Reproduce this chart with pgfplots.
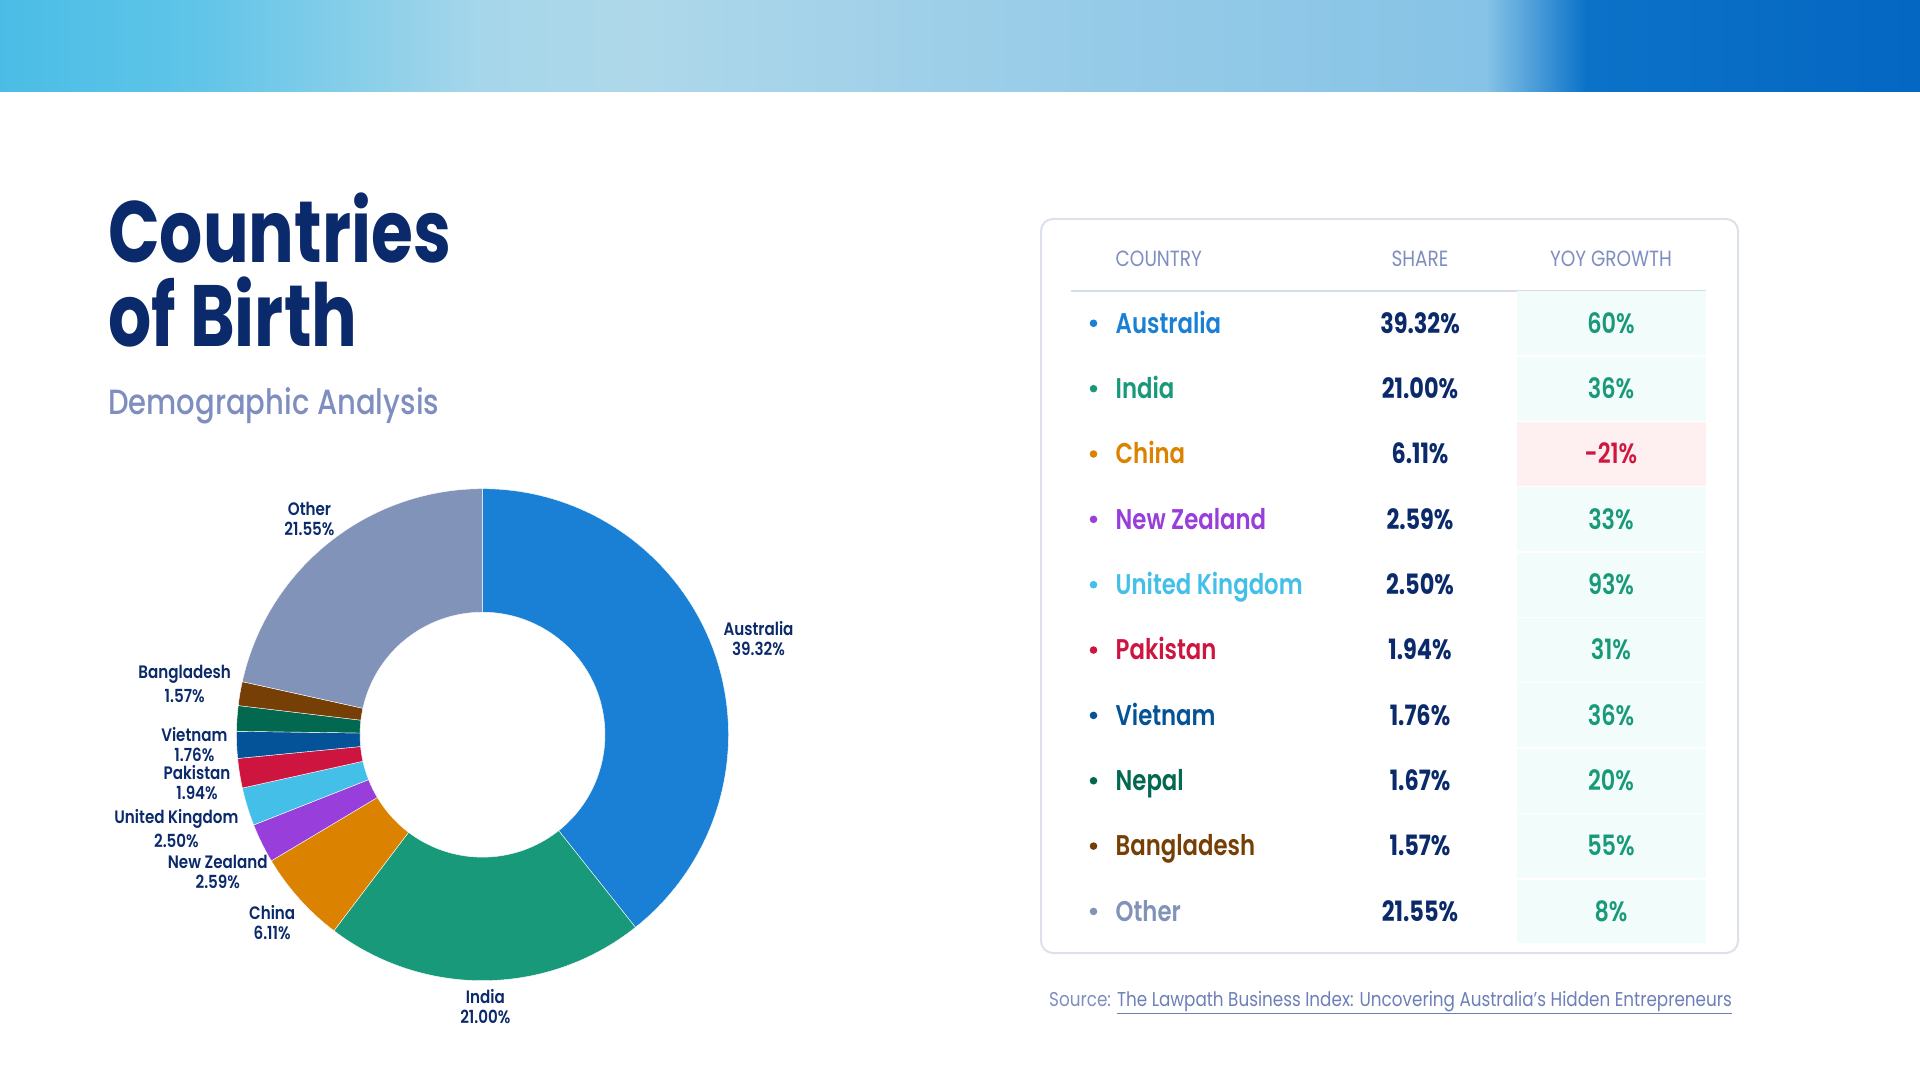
\documentclass[border=0pt]{standalone}
\usepackage{fontspec}
\setmainfont{Poppins}[FakeStretch=0.84]
\newfontfamily\psemi{Poppins SemiBold}[FakeStretch=0.8]
\newfontfamily\plab{Poppins SemiBold}[FakeStretch=0.84]
\newfontfamily\pmed{Poppins Medium}[FakeStretch=0.83]
\newfontfamily\pbold{Poppins Bold}[FakeStretch=0.8]
\newfontfamily\ptitle{Poppins Bold}[FakeStretch=0.78]
\usepackage{pgfplots}
\pgfplotsset{compat=1.18}
\usepackage{pgfplotstable}

\definecolor{navy}{HTML}{0B2A6B}
\definecolor{slate}{HTML}{7F8EC0}
\definecolor{boxc}{HTML}{DCE1EA}
\definecolor{rulec}{HTML}{D6DDEA}
\definecolor{cAus}{HTML}{1A80D6}
\definecolor{cInd}{HTML}{18997A}
\definecolor{cChn}{HTML}{DB8200}
\definecolor{cNzl}{HTML}{983EDB}
\definecolor{cUk}{HTML}{44C0E8}
\definecolor{cPak}{HTML}{CE1540}
\definecolor{cVnm}{HTML}{045297}
\definecolor{cNpl}{HTML}{02684F}
\definecolor{cBgd}{HTML}{763F06}
\definecolor{cOth}{HTML}{8293BA}
\definecolor{cGrn}{HTML}{18997A}
\definecolor{cRed}{HTML}{D0173F}
\definecolor{cellG}{HTML}{F2FCFA}
\definecolor{cellR}{HTML}{FEF0F1}
\definecolor{linkc}{HTML}{6C7FB8}
\definecolor{b0}{HTML}{4ABDE6}
\definecolor{b1}{HTML}{5FC4E8}
\definecolor{b2}{HTML}{A6D6EA}
\definecolor{b3}{HTML}{AED8EA}
\definecolor{b4}{HTML}{98CCE8}
\definecolor{b5}{HTML}{86C3E6}
\definecolor{b6}{HTML}{4A9BD8}
\definecolor{b7}{HTML}{0C72C8}
\definecolor{b8}{HTML}{0467C2}

\pgfdeclarehorizontalshading{banner}{100bp}{%
  color(0bp)=(b0); color(25bp)=(b0); color(30bp)=(b1);
  color(37.5bp)=(b2); color(41.5bp)=(b3); color(52.5bp)=(b4);
  color(63.7bp)=(b5); color(65bp)=(b6); color(66.3bp)=(b7);
  color(75bp)=(b8); color(100bp)=(b8)}

% share in %, yoy growth in %; gap = extra line gap of the donut label, dy = nudge
\pgfplotstableread[col sep=comma]{
name,share,yoy,col,gap,dy,show,bg,vc
Australia,39.32,60,cAus,0,0,1,cellG,cGrn
India,21.00,36,cInd,0,0,1,cellG,cGrn
China,6.11,-21,cChn,0,0,1,cellR,cRed
New Zealand,2.59,33,cNzl,0,-7,1,cellG,cGrn
United Kingdom,2.50,93,cUk,4.5,0,1,cellG,cGrn
Pakistan,1.94,31,cPak,0,-2,1,cellG,cGrn
Vietnam,1.76,36,cVnm,0,1.5,1,cellG,cGrn
Nepal,1.67,20,cNpl,0,0,0,cellG,cGrn
Bangladesh,1.57,55,cBgd,4.5,0,1,cellG,cGrn
Other,21.55,8,cOth,0,0,1,cellG,cGrn
}\births

\begin{document}
\begin{tikzpicture}[x=1pt, y=1pt]
\path[use as bounding box] (0,0) rectangle (1920,1080);
\fill[white] (0,0) rectangle (1920,1080);
\shade[shading=banner] (0,988) rectangle (1920,1080);

% title
\node[anchor=base west, inner sep=0, text=navy, font=\ptitle\fontsize{87}{87}\selectfont] at (108,817) {Countries};
\node[anchor=base west, inner sep=0, text=navy, font=\ptitle\fontsize{87}{87}\selectfont] at (108,733) {of Birth};
\node[anchor=base west, inner sep=0, text=slate, font=\pmed\fontsize{35}{35}\selectfont] at (108,665) {Demographic Analysis};

% donut
\begin{axis}[at={(182.5,45.3)}, anchor=south west, x=1pt, y=1pt,
  xmin=-300, xmax=300, ymin=-300, ymax=300, hide axis, clip=false]
\def\cur{90}
\pgfplotsforeachungrouped \i in {0,...,9}{%
  \pgfplotstablegetelem{\i}{share}\of\births \let\segshare\pgfplotsretval
  \pgfplotstablegetelem{\i}{col}\of\births \let\segcol\pgfplotsretval
  \pgfplotstablegetelem{\i}{name}\of\births \let\segname\pgfplotsretval
  \pgfplotstablegetelem{\i}{gap}\of\births \let\seggap\pgfplotsretval
  \pgfplotstablegetelem{\i}{dy}\of\births \let\segdy\pgfplotsretval
  \pgfplotstablegetelem{\i}{show}\of\births \let\segshow\pgfplotsretval
  \pgfmathsetmacro\nxt{\cur-3.6*\segshare}
  \pgfmathsetmacro\back{\nxt+180}
  \pgfmathsetmacro\midang{(\cur+\nxt)/2}
  \pgfmathsetmacro\anc{mod(\midang+540,360)}
  \edef\doit{\noexpand\fill[\segcol, draw=white, line width=0.4pt] (axis cs:0,0) ++(\cur:246pt)
    arc[start angle=\cur, end angle=\nxt, radius=246pt] -- ++(\back:123.5pt)
    arc[start angle=\nxt, end angle=\cur, radius=122.5pt] -- cycle;}%
  \doit
  \ifnum\segshow=1
    \edef\doit{\noexpand\path (axis cs:0,0) ++(\midang:254pt) ++(0pt,\segdy pt) node[anchor=\anc, inner sep=1pt,
      align=center, text=navy, font=\noexpand\plab\noexpand\fontsize{18}{20}\noexpand\selectfont]
      {\segname\noexpand\\[\seggap pt]\segshare\noexpand\%};}%
    \doit
  \fi
  \let\cur\nxt
}
\end{axis}

% table
\draw[draw=boxc, line width=2pt, rounded corners=12pt, fill=white] (1041,127) rectangle (1738,861);
\node[anchor=base west, inner sep=0, text=slate, font=\fontsize{22}{22}\selectfont] at (1115.5,813.4) {COUNTRY};
\node[anchor=base, inner sep=0, text=slate, font=\fontsize{22}{22}\selectfont] at (1420,813.4) {SHARE};
\node[anchor=base, inner sep=0, text=slate, font=\fontsize{22}{22}\selectfont] at (1611,813.4) {YOY GROWTH};
\draw[rulec, line width=2.5pt] (1071,789) -- (1706,789);
\foreach \i in {0,...,9}{
  \pgfplotstablegetelem{\i}{name}\of\births \let\nm\pgfplotsretval
  \pgfplotstablegetelem{\i}{share}\of\births \let\sv\pgfplotsretval
  \pgfplotstablegetelem{\i}{yoy}\of\births \let\yv\pgfplotsretval
  \pgfplotstablegetelem{\i}{col}\of\births \let\cc\pgfplotsretval
  \pgfplotstablegetelem{\i}{bg}\of\births \let\bgc\pgfplotsretval
  \pgfplotstablegetelem{\i}{vc}\of\births \let\vcc\pgfplotsretval
  \pgfmathsetmacro\yy{756.7-65.35*\i}
  \fill[\bgc] (1517,\yy-31.9) rectangle (1706,\yy+31.9);
  \fill[\cc] (1093.5,\yy) circle (3.8pt);
  \node[anchor=base west, inner sep=0, text=\cc, font=\psemi\fontsize{28.5}{28}\selectfont] at (1115.5,\yy-9.8) {\nm};
  \node[anchor=base, inner sep=0, text=navy, font=\pbold\fontsize{28}{28}\selectfont] at (1420,\yy-9.8) {\sv\%};
  \node[anchor=base, inner sep=0, text=\vcc, font=\psemi\fontsize{28}{28}\selectfont] at (1611,\yy-9.8) {\yv\%};
}

% source
\node[anchor=base west, inner sep=0, text=slate, font=\fontsize{20}{20}\selectfont] at (1049,74)
  {Source: \textcolor{linkc}{\underline{The Lawpath Business Index: Uncovering Australia’s Hidden Entrepreneurs}}};
\end{tikzpicture}
\end{document}
